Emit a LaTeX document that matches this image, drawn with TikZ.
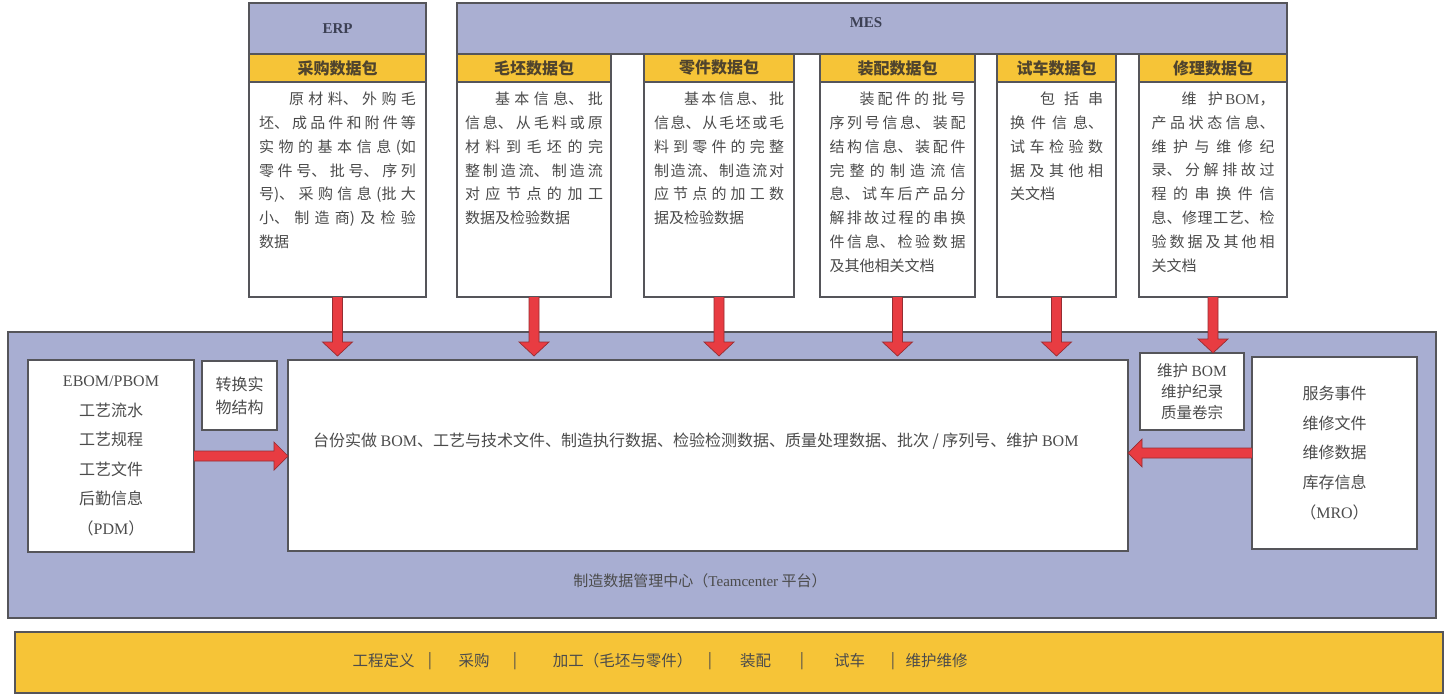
\documentclass[tikz,border=0pt]{standalone}
\usepackage{fontspec}
\setmainfont{Noto Sans CJK SC}
\newfontfamily\latfont{Liberation Serif}
\usetikzlibrary{calc}
\XeTeXlinebreaklocale "zh"
\XeTeXlinebreakskip=0pt plus 4pt
\definecolor{blueH}{RGB}{170,175,210}
\definecolor{blueM}{RGB}{168,174,210}
\definecolor{ybar}{RGB}{246,196,55}
\definecolor{boxline}{RGB}{85,85,90}
\definecolor{txtg}{RGB}{75,75,75}
\definecolor{hdrtx}{RGB}{60,64,84}
\definecolor{ylabtx}{RGB}{80,68,45}
\definecolor{arrred}{RGB}{232,60,66}
\definecolor{arrline}{RGB}{150,45,50}
\newcommand\en[1]{{\latfont #1}}
\newcommand\vblk[2]{%
 \draw[blkarrow] let \p1=(#1), \p2=(#2) in
 ({\x1-5pt},\y1) -- ({\x1-5pt},{\y2+14pt}) -- ({\x1-15pt},{\y2+14pt}) -- (\x1,\y2)
 -- ({\x1+15pt},{\y2+14pt}) -- ({\x1+5pt},{\y2+14pt}) -- ({\x1+5pt},\y1);}
\newcommand\hblk[3]{%
 \draw[blkarrow] let \p1=(#1), \p2=(#2) in
 (\x1,{\y1-5pt}) -- ({\x2-(#3)*14pt},{\y1-5pt}) -- ({\x2-(#3)*14pt},{\y1-14pt}) -- (\x2,\y1)
 -- ({\x2-(#3)*14pt},{\y1+14pt}) -- ({\x2-(#3)*14pt},{\y1+5pt}) -- (\x1,{\y1+5pt});}
\begin{document}
\begin{tikzpicture}[x=1pt,y=-1pt,
 every node/.style={inner sep=0pt,outer sep=0pt,text=txtg},
 frame/.style={draw=boxline,line width=1.1pt},
 hdr/.style={frame,fill=blueH,anchor=north west,minimum height=51pt,
   font=\latfont\bfseries\fontsize{15}{18}\selectfont,text=hdrtx},
 ylab/.style={frame,fill=ybar,anchor=north west,minimum height=28pt,
   font=\bfseries\fontsize{16}{18}\selectfont,text=ylabtx},
 body/.style={frame,fill=white,anchor=north west,minimum height=215pt},
 btxt/.style={anchor=north,align=justify,font=\fontsize{15}{23.8}\selectfont},
 wbox/.style={frame,fill=white,anchor=north west},
 ltxt/.style={align=center,font=\fontsize{16}{29.6}\selectfont},
 stxt/.style={font=\fontsize{15.5}{18}\selectfont},
 blkarrow/.style={fill=arrred,draw=arrline,line width=0.7pt,line join=miter}]
\useasboundingbox (0,0) rectangle (1450,698);
\fill[white] (0,0) rectangle (1450,698);

% headers
\node[hdr,minimum width=177pt] (erp) at (249,3) {ERP};
\node[hdr,minimum width=830pt] (mes) at (457,3) {};
\node[font=\latfont\bfseries\fontsize{15}{18}\selectfont,text=hdrtx] (mesT) at (866,23) {MES};

% yellow labels
\node[ylab,minimum width=177pt] (erpY) at (249,54) {采购数据包};
\node[ylab,minimum width=154pt] (mpY) at (457,54) {毛坯数据包};
\node[ylab,minimum width=150pt] (ljY) at (644,54) {零件数据包};
\node[ylab,minimum width=155pt] (zpY) at (820,54) {装配数据包};
\node[ylab,minimum width=119pt] (scY) at (997,54) {试车数据包};
\node[ylab,minimum width=148pt] (xlY) at (1139,54) {修理数据包};

% bodies
\node[body,minimum width=177pt] (erpB) at (249,82) {};
\node[body,minimum width=154pt] (mpB) at (457,82) {};
\node[body,minimum width=150pt] (ljB) at (644,82) {};
\node[body,minimum width=155pt] (zpB) at (820,82) {};
\node[body,minimum width=119pt] (scB) at (997,82) {};
\node[body,minimum width=148pt] (xlB) at (1139,82) {};

\node[btxt,text width=157pt] (erpX) at ([yshift=-10pt]erpB.north) {\hspace*{2em}原材料、外购毛\linebreak
坯、成品件和附件等\linebreak
实物的基本信息(如\linebreak
零件号、批号、序列\linebreak
号)、采购信息(批大\linebreak
小、制造商)及检验\linebreak
数据};
\node[btxt,text width=138pt] (mpX) at ([yshift=-10pt]mpB.north) {\hspace*{2em}基本信息、批\linebreak
信息、从毛料或原\linebreak
材料到毛坯的完\linebreak
整制造流、制造流\linebreak
对应节点的加工\linebreak
数据及检验数据};
\node[btxt,text width=130pt] (ljX) at ([yshift=-10pt]ljB.north) {\hspace*{2em}基本信息、批\linebreak
信息、从毛坯或毛\linebreak
料到零件的完整\linebreak
制造流、制造流对\linebreak
应节点的加工数\linebreak
据及检验数据};
\node[btxt,text width=136pt] (zpX) at ([yshift=-10pt]zpB.north) {\hspace*{2em}装配件的批号\linebreak
序列号信息、装配\linebreak
结构信息、装配件\linebreak
完整的制造流信\linebreak
息、试车后产品分\linebreak
解排故过程的串换\linebreak
件信息、检验数据\linebreak
及其他相关文档};
\node[btxt,text width=93pt] (scX) at ([yshift=-10pt]scB.north) {\hspace*{2em}包括串\linebreak
换件信息、\linebreak
试车检验数\linebreak
据及其他相\linebreak
关文档};
\node[btxt,text width=123pt] (xlX) at ([yshift=-10pt]xlB.north) {\hspace*{2em}维护\,\en{BOM}，\linebreak
产品状态信息、\linebreak
维护与维修纪\linebreak
录、分解排故过\linebreak
程的串换件信\linebreak
息、修理工艺、检\linebreak
验数据及其他相\linebreak
关文档};

% main platform
\node[frame,fill=blueM,anchor=north west,minimum width=1428pt,minimum height=286pt] (plat) at (8,332) {};
\node[stxt,font=\fontsize{15}{18}\selectfont] (platT) at (700,581) {制造数据管理中心（\en{Teamcenter} 平台）};

\node[wbox,minimum width=166pt,minimum height=192pt] (pdm) at (28,360) {};
\node[ltxt] (pdmT) at (pdm.center) {\en{EBOM/PBOM}\\工艺流水\\工艺规程\\工艺文件\\后勤信息\\（\en{PDM}）};
\node[wbox,minimum width=75pt,minimum height=69pt] (zh) at (202,361) {};
\node[align=center,font=\fontsize{16}{23}\selectfont] (zhT) at (zh.center) {转换实\\物结构};
\node[wbox,minimum width=840pt,minimum height=191pt] (core) at (288,360) {};
\node[stxt,font=\fontsize{16}{18}\selectfont,anchor=west] (coreT) at (313,441) {台份实做 \en{BOM}、工艺与技术文件、制造执行数据、检验检测数据、质量处理数据、批次 / 序列号、维护 \en{BOM}};
\node[wbox,minimum width=104pt,minimum height=77pt] (mb) at (1140,353) {};
\node[align=center,font=\fontsize{15.5}{21}\selectfont] (mbT) at (mb.center) {维护 \en{BOM}\\维护纪录\\质量卷宗};
\node[wbox,minimum width=165pt,minimum height=192pt] (mro) at (1252,357) {};
\node[ltxt] (mroT) at (mro.center) {服务事件\\维修文件\\维修数据\\库存信息\\（\en{MRO}）};

% arrows
\vblk{erpB.south}{[yshift=4pt]core.north}
\vblk{mpB.south}{[yshift=4pt]core.north}
\vblk{ljB.south}{[yshift=4pt]core.north}
\vblk{zpB.south}{[yshift=4pt]core.north}
\vblk{scB.south}{[yshift=4pt]core.north}
\vblk{xlB.south}{mb.north}
\hblk{pdm.east}{core.west}{1}
\hblk{mro.west}{core.east}{-1}

% bottom bar
\node[frame,fill=ybar,anchor=north west,minimum width=1428pt,minimum height=61pt] (bar) at (15,632) {};
\node[stxt] (s1) at (383.5,661) {工程定义};
\node[stxt] (s2) at (430,661) {|};
\node[stxt] (s3) at (474,661) {采购};
\node[stxt] (s4) at (515,661) {|};
\node[stxt] (s5) at (622.5,661) {加工（毛坯与零件）};
\node[stxt] (s6) at (710,661) {|};
\node[stxt] (s7) at (755.5,661) {装配};
\node[stxt] (s8) at (802,661) {|};
\node[stxt] (s9) at (849.5,661) {试车};
\node[stxt] (s10) at (893,661) {|};
\node[stxt] (s11) at (936.5,661) {维护维修};
\end{tikzpicture}
\end{document}
